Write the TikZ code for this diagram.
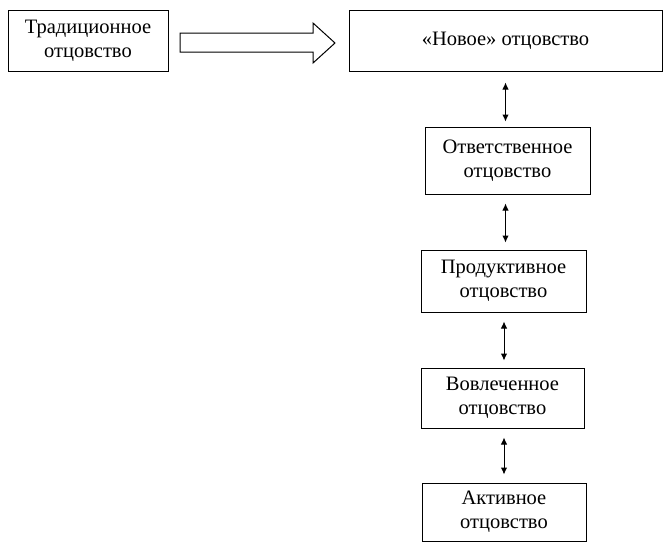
\documentclass[tikz,border=0pt]{standalone}
\usepackage{fontspec}
\setmainfont{Liberation Serif}
\usetikzlibrary{arrows.meta}
\begin{document}
\begin{tikzpicture}[x=1pt,y=-1pt,
  box/.style={draw, line width=1pt, align=center, inner sep=0pt,
    font=\fontsize{20.5}{24}\selectfont},
  link/.style={line width=1pt, {Latex[length=7pt,width=6.5pt]}-{Latex[length=7pt,width=6.5pt]}}]
\useasboundingbox (0,0) rectangle (664,542);
\node[box, minimum width=160pt, minimum height=61pt] (n1) at (88,40.5) {Традиционное\\отцовство};
\node[box, minimum width=313pt, minimum height=61pt] (n2) at (505.5,40.5) {«Новое» отцовство};
\node[box, minimum width=165pt, minimum height=67pt] (n3) at (507.5,160.5) {Ответственное\\отцовство};
\node[box, minimum width=165pt, minimum height=62pt] (n4) at (503.5,281) {Продуктивное\\отцовство};
\node[box, minimum width=163pt, minimum height=60pt] (n5) at (502.5,398) {Вовлеченное\\отцовство};
\node[box, minimum width=164pt, minimum height=58pt] (n6) at (504,512) {Активное\\отцовство};
% block arrow
\draw[line width=1pt] (180,33) -- (313,33) -- (313,23) -- (335,43) -- (313,63) -- (313,52) -- (180,52) -- cycle;
% vertical links
\draw[link, shorten <=11pt, shorten >=5pt] (n2.south -| n2) -- (n3.north -| n2);
\draw[link, shorten <=9pt, shorten >=7pt] (n3.south -| n2) -- (n4.north -| n2);
\draw[link, shorten <=9pt, shorten >=7pt] (n4.south -| n6) -- (n5.north -| n6);
\draw[link, shorten <=9pt, shorten >=8pt] (n5.south -| n6) -- (n6.north);
\end{tikzpicture}
\end{document}
